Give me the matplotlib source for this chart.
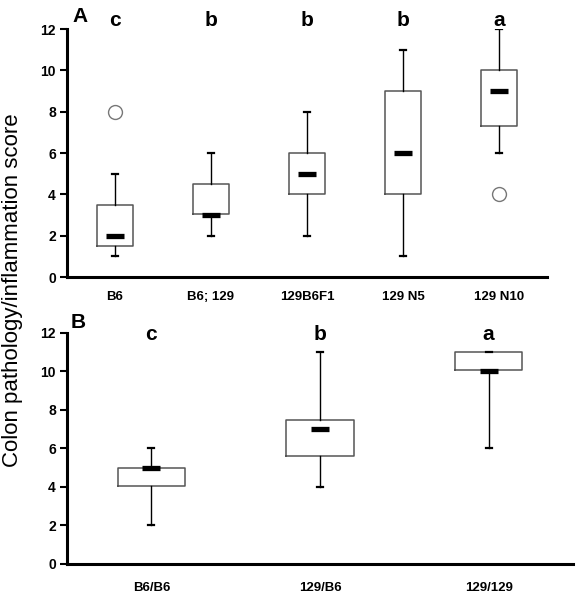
import numpy as np
import matplotlib
matplotlib.use('Agg')
import matplotlib.pyplot as plt

plt.rcParams['font.family'] = ['Liberation Sans', 'DejaVu Sans']

# panel A
groups_a = ['B6', 'B6; 129', '129B6F1', '129 N5', '129 N10']
whislo_a = [1, 2, 2, 1, 6]
q1_a = [1.5, 3.05, 4, 4, 7.3]
med_a = [2, 3, 5, 6, 9]
q3_a = [3.5, 4.5, 6, 9, 10]
whishi_a = [5, 6, 8, 11, 12]
fliers_a = [[8], [], [], [], [4]]
letters_a = ['c', 'b', 'b', 'b', 'a']

# panel B
groups_b = ['B6/B6', '129/B6', '129/129']
whislo_b = [2, 4, 6]
q1_b = [4.05, 5.6, 10.05]
med_b = [5, 7, 10]
q3_b = [5, 7.5, 11]
whishi_b = [6, 11, 11]
fliers_b = [[], [], []]
letters_b = ['c', 'b', 'a']


def simpleaxis(ax):
    ax.spines['top'].set_visible(False)
    ax.spines['right'].set_visible(False)
    for s in ['left', 'bottom']:
        ax.spines[s].set_linewidth(2.2)
    ax.tick_params(axis='y', length=5, width=1.5, labelsize=10, pad=3)
    ax.tick_params(axis='x', length=0, labelsize=9.5)
    for lab in ax.get_xticklabels() + ax.get_yticklabels():
        lab.set_fontweight('bold')


def draw_panel(ax, groups, lo, q1, med, q3, hi, fl, letters, width, capw, medw, lety, xpad):
    pos = np.arange(1, len(groups) + 1)
    stats = []
    for i in range(len(groups)):
        stats.append(dict(whislo=lo[i], q1=q1[i], med=med[i], q3=q3[i],
                          whishi=hi[i], fliers=fl[i], label=groups[i]))
    ax.bxp(stats, positions=pos, widths=width, capwidths=capw,
           boxprops=dict(color='#555555', linewidth=1.1),
           whiskerprops=dict(color='black', linewidth=1.0),
           capprops=dict(color='black', linewidth=1.6),
           medianprops=dict(visible=False),
           flierprops=dict(marker='o', markersize=10, markerfacecolor='none',
                           markeredgecolor='#777777', markeredgewidth=1.0))
    ax.hlines(med, pos - medw, pos + medw, colors='black', linewidth=3.8, zorder=3)
    for p, t in zip(pos, letters):
        ax.text(p, lety, t, ha='center', va='center', fontsize=15,
                fontweight='bold', clip_on=False)
    ax.set_xlim(0.5, len(groups) + 0.5)
    ax.set_ylim(0, 12)
    ax.set_yticks([0, 2, 4, 6, 8, 10, 12])
    simpleaxis(ax)
    ax.tick_params(axis='x', pad=xpad)


fig = plt.figure(figsize=(5.81, 6.01), dpi=100)
ax1 = fig.add_axes([0.1153, 0.5391, 0.8262, 0.4126])
ax2 = fig.add_axes([0.1153, 0.0616, 0.8709, 0.3844])

draw_panel(ax1, groups_a, whislo_a, q1_a, med_a, q3_a, whishi_a, fliers_a,
           letters_a, 0.38, 0.07, 0.09, 12.4, 10)
draw_panel(ax2, groups_b, whislo_b, q1_b, med_b, q3_b, whishi_b, fliers_b,
           letters_b, 0.4, 0.036, 0.053, 11.9, 13)

fig.text(0.137, 0.972, 'A', fontsize=15, fontweight='bold', ha='center', va='center')
fig.text(0.134, 0.464, 'B', fontsize=15, fontweight='bold', ha='center', va='center')
fig.text(0.022, 0.517, 'Colon pathology/inflammation score', rotation=90,
         fontsize=16, ha='center', va='center')

plt.savefig('out.png', dpi=100)
